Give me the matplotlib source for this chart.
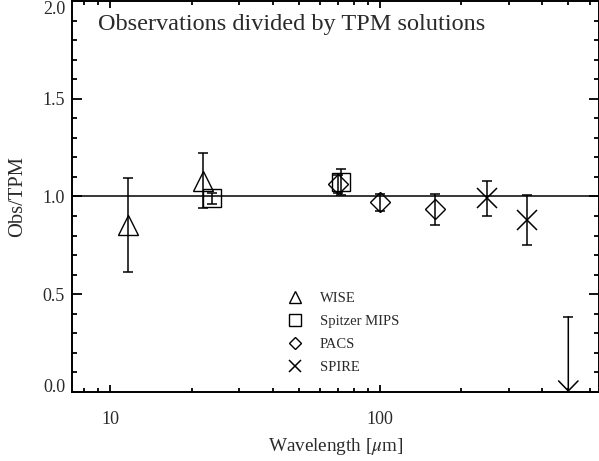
import numpy as np
import matplotlib
matplotlib.use('Agg')
import matplotlib.pyplot as plt
from matplotlib.lines import Line2D
from matplotlib.ticker import MultipleLocator, LogLocator, FixedLocator, FixedFormatter, NullFormatter

plt.rcParams['font.family'] = ['Liberation Serif', 'DejaVu Serif']
plt.rcParams['mathtext.fontset'] = 'stix'

# data
wise_wl = [11.6, 22.1]
wise_ratio = [0.855, 1.08]
wise_err = [0.24, 0.14]

mips_wl = [23.8, 71.4]
mips_ratio = [0.99, 1.075]
mips_err = [0.03, 0.065]

pacs_wl = [70.0, 100.0, 160.0]
pacs_ratio = [1.065, 0.97, 0.935]
pacs_err = [0.045, 0.045, 0.08]

spire_wl = [250.0, 350.0]
spire_ratio = [0.99, 0.88]
spire_err = [0.09, 0.13]

ulim_wl = 500.0
ulim_val = 0.385

labels = ['WISE', 'Spitzer MIPS', 'PACS', 'SPIRE']
title = 'Observations divided by TPM solutions'

txtc = '#2a2a2a'
fig = plt.figure(figsize=(5.99, 4.61), dpi=100)
ax = fig.add_axes([72 / 599, 69 / 461, 527 / 599, 391 / 461])

ax.axhline(1.0, color='black', lw=1.1, zorder=1)

ekw = dict(fmt='none', ecolor='black', elinewidth=1.1, capsize=3.6, capthick=1.1)
ax.errorbar(wise_wl, wise_ratio, yerr=wise_err, **ekw)
ax.errorbar(mips_wl, mips_ratio, yerr=mips_err, **ekw)
ax.errorbar(pacs_wl, pacs_ratio, yerr=pacs_err, **ekw)
ax.errorbar(spire_wl, spire_ratio, yerr=spire_err, **ekw)

mkw = dict(ls='none', mfc='none', mec='black', mew=1.0)
ax.plot(wise_wl, wise_ratio, marker='^', ms=14, **mkw)
ax.plot(mips_wl, mips_ratio, marker='s', ms=13.5, **mkw)
ax.plot(pacs_wl, pacs_ratio, marker='D', ms=10, **mkw)
ax.plot(spire_wl, spire_ratio, marker='x', ms=14.5, color='black', ls='none', mew=1.1)

# upper limit with arrow down to zero
ax.plot([ulim_wl], [ulim_val], marker='_', ms=7.5, mew=1.1, color='black', ls='none')
ax.annotate('', xy=(ulim_wl, 0.0), xytext=(ulim_wl, ulim_val),
            arrowprops=dict(arrowstyle='->,head_length=0.72,head_width=0.7',
                            mutation_scale=10, color='black', lw=1.1,
                            shrinkA=0, shrinkB=0))

ax.set_xscale('log')
ax.set_xlim(7.2, 650)
ax.set_ylim(0, 2.0)

ax.xaxis.set_major_locator(FixedLocator([10, 100]))
ax.xaxis.set_major_formatter(FixedFormatter(['10', '100']))
ax.xaxis.set_minor_locator(LogLocator(base=10, subs=np.arange(2, 10)))
ax.xaxis.set_minor_formatter(NullFormatter())
ax.yaxis.set_major_locator(MultipleLocator(0.5))
ax.yaxis.set_minor_locator(MultipleLocator(0.1))
ax.yaxis.set_major_formatter(plt.FormatStrFormatter('%.1f'))

ax.tick_params(axis='both', which='both', direction='in', top=True, right=True,
               colors='black', labelcolor=txtc, labelsize=13)
ax.tick_params(axis='y', which='major', length=7, width=1.3, pad=5)
ax.tick_params(axis='y', which='minor', length=3.8, width=1.3)
ax.tick_params(axis='x', which='major', length=5, width=1.3, pad=13.5)
ax.tick_params(axis='x', which='minor', length=3, width=1.3)
for s in ax.spines.values():
    s.set_linewidth(1.4)

ax.set_xlabel(r'Wavelength [$\mu$m]', fontsize=13.8, color=txtc, labelpad=6)
ax.set_ylabel('Obs/TPM', fontsize=14.8, color=txtc, labelpad=11)

ax.text(0.049, 0.94, title, transform=ax.transAxes, fontsize=17.5, color=txtc,
        ha='left', va='center')

handles = [
    Line2D([], [], marker='^', ms=9, ls='none', mfc='none', mec='black', mew=1.0),
    Line2D([], [], marker='s', ms=8.5, ls='none', mfc='none', mec='black', mew=1.0),
    Line2D([], [], marker='D', ms=6, ls='none', mfc='none', mec='black', mew=1.0),
    Line2D([], [], marker='x', ms=9, ls='none', color='black', mew=1.1),
]
ax.legend(handles, labels, loc='upper left', bbox_to_anchor=(0.409, 0.256),
          frameon=False, fontsize=10.5, handlelength=1.0, handletextpad=1.2,
          labelspacing=0.66, borderpad=0, borderaxespad=0, labelcolor=txtc)

fig.canvas.draw()
yticks = ax.yaxis.get_major_ticks()
yvals = ax.yaxis.get_majorticklocs()
for t, v in zip(yticks, yvals):
    if np.isclose(v, 2.0):
        t.label1.set_verticalalignment('top')
    elif np.isclose(v, 0.0):
        t.label1.set_verticalalignment('baseline')

fig.savefig('out.png', dpi=100)
